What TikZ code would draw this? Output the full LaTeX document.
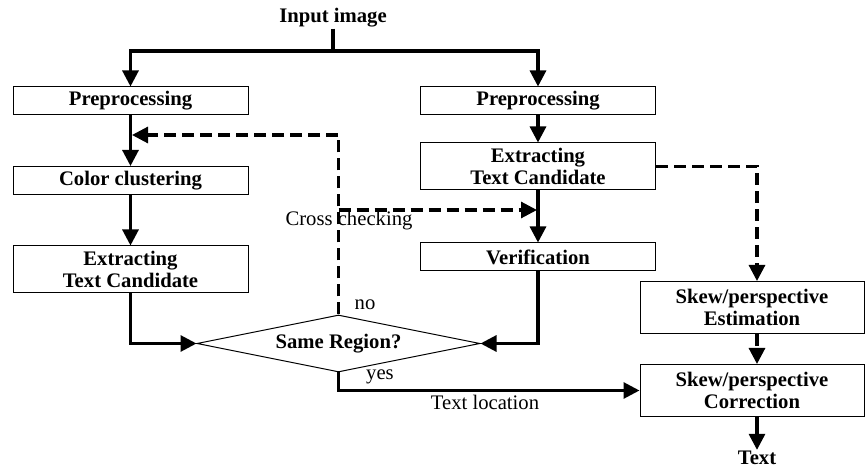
\documentclass[tikz,border=0pt]{standalone}
\usepackage{fontspec}
\setmainfont{Liberation Serif}
\usetikzlibrary{arrows.meta,shapes.geometric}

\tikzset{
  stage/.style={draw,line width=0.75pt,minimum width=176.25pt,minimum height=21pt,inner sep=0.75pt,align=center,font=\bfseries\fontsize{15.5}{16.5}\selectfont},
  tallstage/.style={stage,minimum height=35.25pt},
  skewstage/.style={stage,minimum width=168pt,minimum height=39pt},
  flow/.style={line width=2.3pt,-{Triangle[length=12pt,width=12pt]}},
  dashflow/.style={flow,dash pattern=on 9pt off 4.5pt},
  note/.style={inner sep=0.75pt,font=\fontsize{15.5}{16.5}\selectfont}
}

\begin{document}
\begin{tikzpicture}[x=0.75pt,y=0.75pt,yscale=-1,xscale=1]
\useasboundingbox (0,0) rectangle (865,470);

% Text Node
\node [note,font=\bfseries\fontsize{15.5}{16.5}\selectfont] (input) at (333,18) {Input image};
\coordinate (split) at (333,51);

%Shape: Rectangle left column
\node [stage] (preL) at (130.5,101) {Preprocessing};
\node [stage] (color) at (130.5,180.5) {Color clustering};
\node [tallstage] (extL) at (130.5,269.5) {Extracting\\Text Candidate};

%Shape: Rectangle right column
\node [stage] (preR) at (538,101) {Preprocessing};
\node [tallstage] (extR) at (538,166.5) {Extracting\\Text Candidate};
\node [stage] (verif) at (538,257) {Verification};

%Shape: Diamond
\node [draw,diamond,line width=0.75pt,aspect=5,inner sep=0pt,minimum width=212.25pt,minimum height=42.75pt,font=\bfseries\fontsize{15.5}{16.5}\selectfont] (same) at (338.5,343.5) {Same Region?};

%Shape: Rectangle skew column
\node [skewstage] (estim) at (752,307.5) {Skew/perspective\\Estimation};
\node [skewstage] (correct) at (752,390.5) {Skew/perspective\\Correction};
\node [note,font=\bfseries\fontsize{15.5}{16.5}\selectfont] (text) at (757,458) {Text};

% Straight Lines
\draw [line width=2.3pt] (input.south) -- (split);
\draw [flow] (split) -| (preL);
\draw [flow] (split) -| (preR);
\draw [flow] (preL) -- (color);
\draw [flow] (color) -- (extL);
\draw [flow] (preR) -- (extR);
\draw [flow] (extR) -- (verif);
\draw [flow] (extL.south) |- (same.west);
\draw [flow] (verif.south) |- (same.east);

% no branch and cross checking
\coordinate (back) at (132,135);
\coordinate (cross) at (338.5,210);
\coordinate (crossend) at (537,210);
\draw [dashflow] (same.north) |- (back);
\draw [dashflow] (cross) -- (crossend);

% skew branch
\draw [dashflow] (extR.east) -| (estim.north -| text);
\draw [dashflow] (estim.south -| text) -- (correct.north -| text);
\draw [flow] (same.south) |- (correct.west);
\draw [flow] (correct.south -| text) -- (text);

% Text Node
\node [note] (no) at (365,305) {no};
\node [note] (yes) at (380,377) {yes};
\node [note] (loc) at (485,402) {Text location};
\node [note] (cc) at (349,221) {Cross checking};

\end{tikzpicture}
\end{document}
